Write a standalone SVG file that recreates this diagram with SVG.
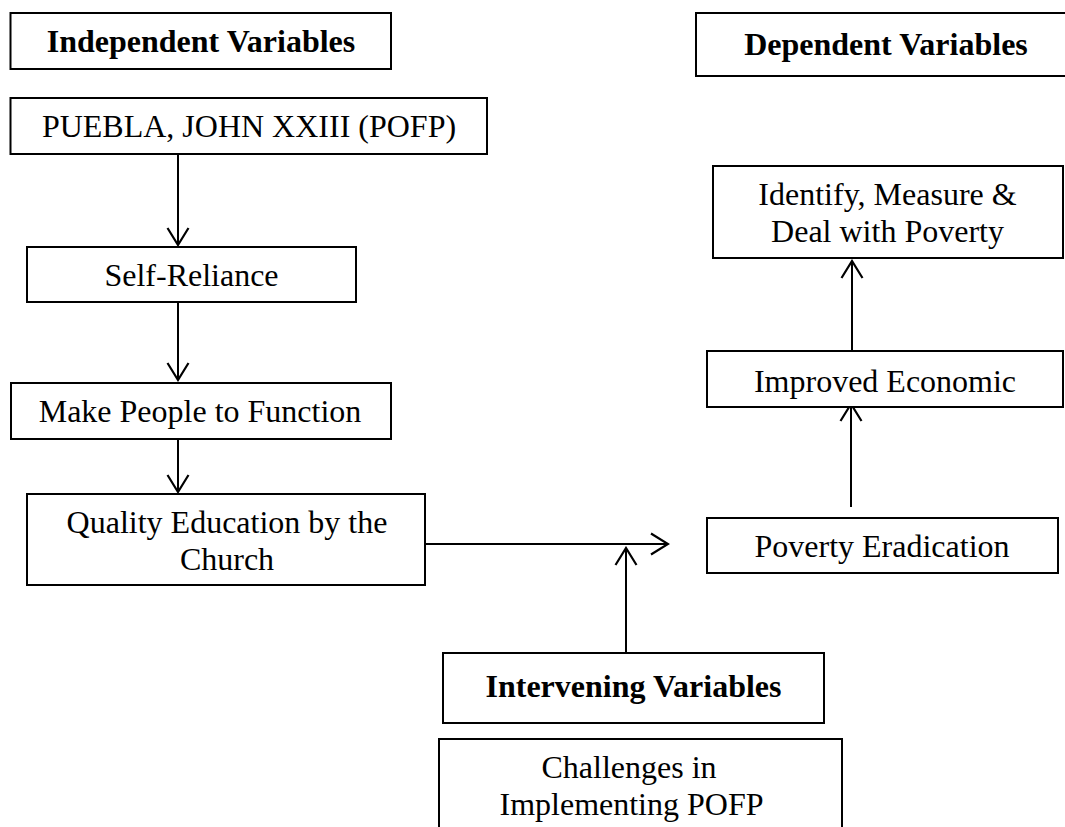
<svg xmlns="http://www.w3.org/2000/svg" width="1065" height="827" viewBox="0 0 1065 827">
<style>
.box{fill:#fff;stroke:#000;stroke-width:2}
.t{font-family:"Liberation Serif","Times New Roman",serif;font-size:32px;fill:#000;text-anchor:middle}
.b{font-weight:bold}
.c{fill:none;stroke:#000;stroke-width:2}
</style>
<defs>
<marker id="ah" markerUnits="userSpaceOnUse" viewBox="-22 -13 24 26" refX="0" refY="0" markerWidth="24" markerHeight="26" orient="auto">
<path d="M-17,-10.5 L0,0 L-17,10.5" fill="none" stroke="#000" stroke-width="2.2"/>
</marker>
</defs>
<rect width="1065" height="827" fill="#fff"/>
<g id="connectors">
<line class="c" x1="178" y1="154" x2="178" y2="245" marker-end="url(#ah)"/>
<line class="c" x1="178" y1="302" x2="178" y2="380" marker-end="url(#ah)"/>
<line class="c" x1="178" y1="439" x2="178" y2="492" marker-end="url(#ah)"/>
<line class="c" x1="425" y1="544" x2="668" y2="544" marker-end="url(#ah)"/>
<line class="c" x1="626" y1="653" x2="626" y2="548" marker-end="url(#ah)"/>
<line class="c" x1="851" y1="507" x2="851" y2="404" marker-end="url(#ah)"/>
<line class="c" x1="852" y1="351" x2="852" y2="261" marker-end="url(#ah)"/>
</g>
<g id="independent-variables">
<rect class="box" x="10.5" y="13" width="380.5" height="56"/>
<text class="t b" x="201" y="52">Independent Variables</text>
</g>
<g id="dependent-variables">
<rect class="box" x="696" y="13" width="380" height="63"/>
<text class="t b" x="886" y="55">Dependent Variables</text>
</g>
<g id="puebla">
<rect class="box" x="10.5" y="98" width="476.5" height="56"/>
<text class="t" x="249" y="137">PUEBLA, JOHN XXIII (POFP)</text>
</g>
<g id="self-reliance">
<rect class="box" x="27" y="247" width="329" height="55"/>
<text class="t" x="191.5" y="286">Self-Reliance</text>
</g>
<g id="make-people">
<rect class="box" x="11" y="383" width="380" height="56"/>
<text class="t" x="200" y="422">Make People to Function</text>
</g>
<g id="quality-education">
<rect class="box" x="27" y="494" width="398" height="91"/>
<text class="t" x="227" y="533">Quality Education by the</text>
<text class="t" x="227" y="570">Church</text>
</g>
<g id="poverty-eradication">
<rect class="box" x="707" y="518" width="351" height="55"/>
<text class="t" x="882" y="557">Poverty Eradication</text>
</g>
<g id="improved-economic">
<rect class="box" x="707" y="351" width="356" height="56"/>
<text class="t" x="885" y="392">Improved Economic</text>
</g>
<g id="identify-measure">
<rect class="box" x="713" y="166" width="350" height="92"/>
<text class="t" x="887.5" y="205">Identify, Measure &amp;</text>
<text class="t" x="887.5" y="242">Deal with Poverty</text>
</g>
<g id="intervening-variables">
<rect class="box" x="443" y="653" width="381" height="70"/>
<text class="t b" x="633.5" y="697">Intervening Variables</text>
</g>
<g id="challenges">
<rect class="box" x="439" y="739" width="403" height="110"/>
<text class="t" x="629" y="778">Challenges in</text>
<text class="t" x="631.5" y="815">Implementing POFP</text>
</g>
</svg>
